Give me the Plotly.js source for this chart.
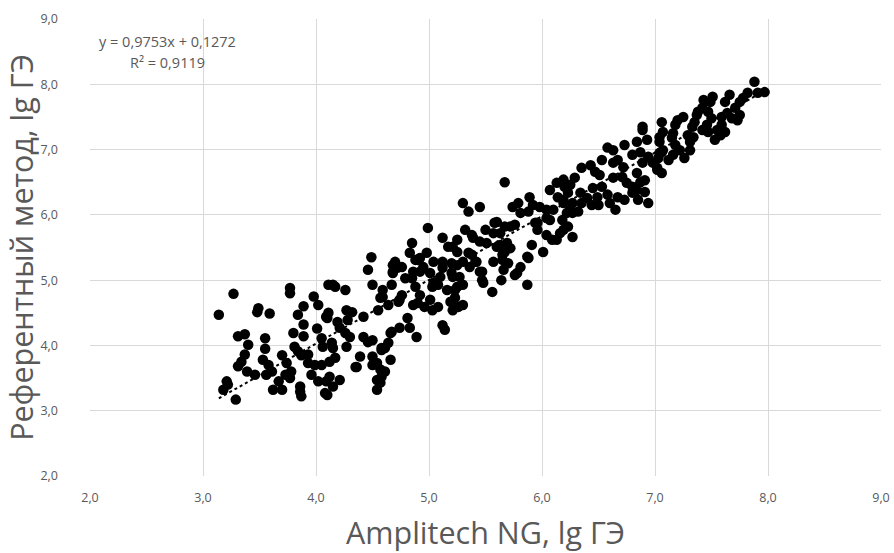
<!DOCTYPE html>
<html>
<head>
<meta charset="utf-8">
<script src="https://cdn.plot.ly/plotly-3.0.1.min.js"></script>
<style>html,body{margin:0;padding:0;background:#fff;}#chart{width:894px;height:553px;}</style>
</head>
<body>
<div id="chart"></div>
<script>
// Amplitech NG (x) vs reference method (y), lg GE
const xVals = [
3.14,3.27,3.29,3.21,3.18,3.22,3.49,3.48,3.59,3.77,3.77,3.31,3.37,3.40,3.55,3.55,3.37,3.34,3.31,3.39,
3.46,3.53,3.58,3.61,3.56,3.62,3.70,3.67,3.70,3.74,3.78,3.73,3.77,3.80,3.81,3.84,3.87,3.86,3.87,3.86,
3.89,3.84,3.89,3.89,3.98,4.02,4.01,4.05,4.06,3.93,3.99,4.05,4.02,4.09,4.08,3.96,4.09,4.11,3.93,4.17,
4.26,4.11,4.10,4.19,4.21,4.26,4.27,4.32,4.15,4.17,4.12,4.27,4.30,4.36,4.42,4.42,4.46,4.50,4.50,4.54,
4.57,4.54,4.54,4.58,4.66,4.66,4.50,4.59,4.67,4.46,4.68,4.10,4.21,
4.49,4.15,4.57,4.55,4.64,4.73,4.76,4.68,4.76,4.83,4.85,4.88,4.98,4.92,4.85,4.79,4.81,4.74,4.88,4.90,
4.96,5.03,5.01,5.10,5.04,5.12,5.20,5.21,5.16,5.23,5.19,5.21,5.12,5.14,4.89,5.21,5.25,4.28,4.58,4.64,
4.39,4.35,4.50,4.61,4.58,4.57,4.14,4.12,4.15,4.83,4.99,5.30,5.45,5.35,4.92,5.12,5.17,5.25,5.32,5.38,
5.45,5.51,5.50,5.58,5.63,5.72,5.76,5.60,5.69,5.65,5.70,5.57,5.45,5.48,5.35,5.41,5.36,5.25,5.20,5.27,
5.30,5.64,5.56,5.81,5.78,5.87,5.91,5.87,6.01,5.88,5.96,6.04,6.10,6.18,6.27,6.27,6.16,6.09,5.74,5.81,
5.98,4.70,4.68,4.86,4.95,5.04,5.12,5.08,5.03,5.25,4.92,5.01,5.08,5.26,4.86,4.67,4.61,4.59,4.74,4.72,
4.90,
5.67,5.79,5.89,5.92,6.04,6.07,5.94,6.07,6.13,6.20,6.14,6.19,6.22,5.39,5.57,5.60,5.67,5.63,5.67,5.72,
5.65,5.66,5.30,5.38,5.42,5.47,5.47,5.88,5.76,5.96,6.04,6.13,6.19,5.23,5.30,
6.58,6.63,6.73,6.84,6.93,6.89,6.53,6.43,6.35,6.47,6.51,6.63,6.67,6.72,6.80,6.87,6.94,6.98,7.04,6.63,
6.71,6.75,6.80,6.87,6.91,6.84,6.91,6.85,6.94,6.45,6.53,6.49,6.58,6.60,6.65,6.67,6.73,6.80,6.34,6.40,
6.35,6.44,6.50,6.19,6.25,6.29,6.23,6.19,6.27,6.25,6.32,6.23,7.04,7.07,7.02,6.84,6.89,6.89,
7.88,7.97,7.91,7.82,7.78,7.75,7.66,7.62,7.51,7.49,7.43,7.42,7.38,7.71,7.75,7.73,7.68,7.64,7.59,7.59,
7.55,7.62,7.58,7.47,7.50,7.46,7.47,7.42,7.35,7.37,7.33,7.29,7.34,7.31,7.31,7.25,7.20,7.18,7.16,7.15,
7.18,7.16,7.12,7.06,7.04,7.07,7.06,7.03,7.06,7.02,7.53,7.22,7.26
];
const yVals = [
4.47,4.79,3.17,3.45,3.32,3.40,4.57,4.51,4.49,4.88,4.80,4.14,4.17,4.01,4.11,3.95,3.86,3.75,3.68,3.60,
3.55,3.78,3.70,3.60,3.55,3.32,3.32,3.45,3.85,3.73,3.60,3.55,3.50,4.19,3.98,3.91,3.85,3.37,3.22,3.29,
4.60,4.47,4.32,4.14,4.75,4.62,4.26,4.11,3.98,3.73,3.70,3.70,3.45,3.45,3.27,3.55,4.44,4.93,3.86,4.90,
4.85,4.50,4.42,4.36,4.27,4.19,4.54,4.51,3.96,3.81,3.75,3.98,4.13,3.67,4.44,4.13,4.05,4.08,3.83,3.73,
3.63,3.47,3.32,3.93,3.78,4.19,4.93,4.85,4.93,5.16,5.11,3.24,3.47,
5.35,4.93,4.73,4.54,4.62,4.67,4.77,5.23,5.20,5.42,5.57,5.31,5.42,5.13,5.03,5.03,4.42,4.27,4.90,4.65,
4.59,4.54,5.11,5.05,4.96,5.28,5.26,5.05,4.85,4.85,4.67,4.54,4.31,4.24,4.13,5.51,5.62,4.39,3.96,4.04,
3.83,3.67,3.70,3.60,3.52,3.43,4.04,3.52,3.37,4.27,5.80,6.18,6.12,6.05,5.34,5.65,5.51,5.43,5.77,5.69,
5.59,5.57,5.77,5.88,5.72,5.82,5.85,5.51,5.57,5.39,5.26,5.28,5.13,4.96,5.42,5.28,5.20,5.23,5.11,5.05,
4.93,5.00,4.82,5.20,5.11,4.93,5.54,5.36,5.43,6.05,5.88,5.95,6.08,5.92,6.03,5.66,5.72,5.62,6.12,6.03,
6.12,5.28,5.13,5.13,5.20,5.28,5.19,4.93,4.90,4.90,4.77,4.70,4.59,4.59,4.62,4.21,3.96,4.74,4.70,5.19,
5.31,
6.50,6.18,6.27,6.15,6.08,5.92,5.88,6.38,6.49,6.43,6.27,6.18,6.03,5.65,5.72,5.89,5.82,5.54,5.43,5.49,
5.31,5.16,5.28,5.39,5.28,5.13,5.00,5.34,5.08,5.77,5.69,5.62,5.77,4.73,4.62,
7.03,6.99,7.07,7.12,7.15,7.30,6.84,6.76,6.72,6.66,6.61,6.80,6.84,6.73,6.92,6.96,6.89,6.80,6.95,6.57,
6.58,6.49,6.43,6.50,6.53,6.38,6.35,6.23,6.18,6.41,6.43,6.27,6.31,6.18,6.08,6.27,6.23,6.34,6.34,6.26,
6.18,6.15,6.15,6.54,6.46,6.57,6.34,6.23,6.18,6.08,6.05,5.82,7.19,6.99,6.69,6.64,6.80,7.35,
8.04,7.88,7.87,7.87,7.79,7.73,7.84,7.73,7.81,7.73,7.76,7.64,7.58,7.64,7.53,7.45,7.48,7.56,7.50,7.38,
7.30,7.27,7.22,7.58,7.48,7.38,7.27,7.30,7.42,7.53,7.35,7.22,7.19,7.12,6.99,7.50,7.45,7.38,7.25,7.18,
7.07,6.92,6.84,6.96,7.12,7.27,7.42,6.87,6.64,6.72,7.15,6.99,6.87
];
const slope = 0.9753;
const intercept = 0.1272;
const eqText = "y = 0,9753x + 0,1272";
const r2Text = "R² = 0,9119";
const xTitle = "Amplitech NG, lg ГЭ";
const yTitle = "Референтный метод, lg ГЭ";

const xMin = Math.min(...xVals), xMax = Math.max(...xVals);
const trendX = [xMin, xMax];
const trendY = trendX.map(v => slope * v + intercept);

const gray = "#595959";
const font = "Open Sans, Noto Sans, sans-serif";

const data = [
  {x: xVals, y: yVals, type: "scatter", mode: "markers",
   marker: {color: "#000000", size: 10.5}, hoverinfo: "skip"},
  {x: trendX, y: trendY, type: "scatter", mode: "lines",
   line: {color: "#000000", width: 2, dash: "dot"}, hoverinfo: "skip"}
];

const axisBase = {
  range: [2, 9], dtick: 1, tick0: 2, tickformat: ".1f",
  showgrid: true, gridcolor: "#d9d9d9", gridwidth: 1,
  zeroline: false, showline: false, ticks: "",
  tickfont: {family: font, size: 12.5, color: gray},
  fixedrange: true
};

const layout = {
  width: 894, height: 553,
  margin: {l: 90, r: 13, t: 19, b: 77},
  paper_bgcolor: "#ffffff", plot_bgcolor: "#ffffff",
  separators: ", ",
  showlegend: false,
  xaxis: Object.assign({}, axisBase, {
    ticklabelstandoff: 12,
    title: {text: xTitle, font: {family: font, size: 30.5, color: gray}, standoff: 22}
  }),
  yaxis: Object.assign({}, axisBase, {
    ticklabelstandoff: 31,
    title: {text: yTitle, font: {family: font, size: 30.5, color: gray}, standoff: 4}
  }),
  annotations: [
    {xref: "paper", yref: "paper", x: 0.098, y: 0.951, text: eqText, showarrow: false,
     font: {family: font, size: 14.5, color: gray}, xanchor: "center", yanchor: "middle"},
    {xref: "paper", yref: "paper", x: 0.098, y: 0.905, text: r2Text, showarrow: false,
     font: {family: font, size: 14.5, color: gray}, xanchor: "center", yanchor: "middle"}
  ]
};

Plotly.newPlot("chart", data, layout, {displayModeBar: false, staticPlot: true});
</script>
</body>
</html>
